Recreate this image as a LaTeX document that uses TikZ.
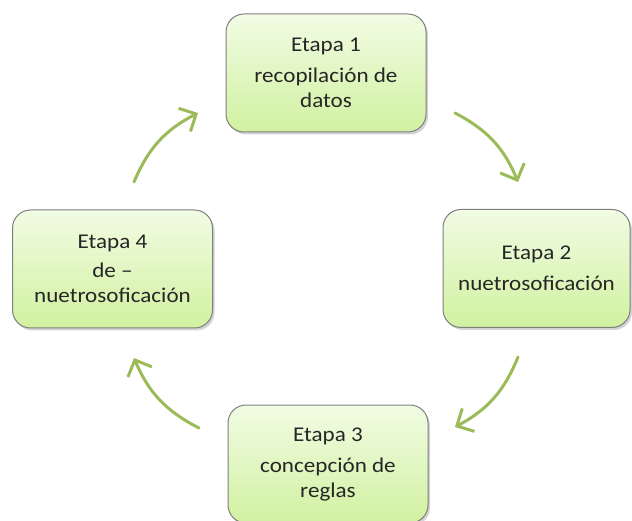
\documentclass[tikz,border=0pt]{standalone}
\usepackage{fontspec}
\setmainfont{Carlito}[FakeStretch=1.1]
\usetikzlibrary{calc,shadows,arrows.meta}
\definecolor{StageTop}{HTML}{F1FCE4}
\definecolor{StageBottom}{HTML}{D1F1A0}
\definecolor{StageBorder}{HTML}{7F7F7F}
\definecolor{CycleGreen}{HTML}{9BBB59}

\begin{document}
\begin{tikzpicture}[x=1pt,y=-1pt,line cap=round,line join=round,
  stage/.style={draw=StageBorder,line width=1pt,rounded corners=18pt,
    top color=StageTop,bottom color=StageBottom,
    minimum width=200pt,minimum height=118pt,align=center,
    font=\fontsize{21}{25}\selectfont,text=black!85,
    drop shadow={shadow xshift=2pt,shadow yshift=-2.5pt,opacity=.35}},
  cycle/.style={CycleGreen,line width=3pt,
    -{Straight Barb[length=13pt,width=26pt,line width=3pt]}}]
  \useasboundingbox (0,0) rectangle (632,521);

  % the four stages
  \node[stage] (etapa1) at (326,73) {Etapa 1\\[6pt]recopilación de\\datos};
  \node[stage,minimum width=187pt] (etapa2) at (536.5,268.5) {Etapa 2\\[6pt]nuetrosoficación};
  \node[stage] (etapa3) at (328,464) {Etapa 3\\[6pt]concepción de\\reglas};
  \node[stage] (etapa4) at (112.5,269) {Etapa 4\\[4pt]de --\\nuetrosoficación};

  % arrow ends
  \coordinate (t12) at (455,113);
  \coordinate (h12) at (518,182);
  \coordinate (t23) at (518,357);
  \coordinate (h23) at (455,427);
  \coordinate (t34) at (199,428);
  \coordinate (h34) at (134,358);
  \coordinate (t41) at (134,182);
  \coordinate (h41) at (198,113);

  \draw[cycle] (t12) to[bend left=20] (h12);
  \draw[cycle] (t23) to[bend left=20] (h23);
  \draw[cycle] (t34) to[bend left=20] (h34);
  \draw[cycle] (t41) to[bend left=20] (h41);
\end{tikzpicture}
\end{document}
